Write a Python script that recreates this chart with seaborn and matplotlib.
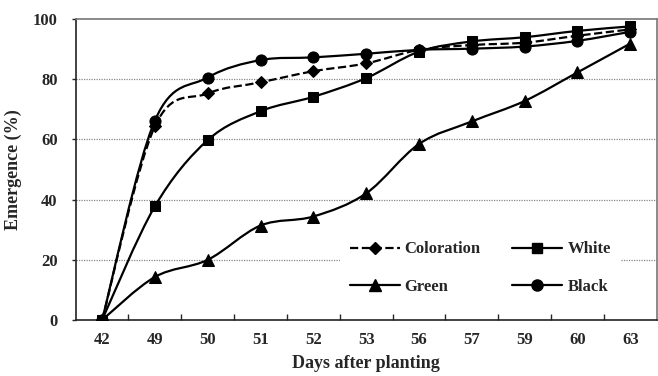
import numpy as np
import pandas as pd
import matplotlib.pyplot as plt
import seaborn as sns
from matplotlib.path import Path
from matplotlib.patches import PathPatch
from matplotlib.lines import Line2D

sns.set_style('white')
plt.rcParams['font.family'] = ['Liberation Serif', 'DejaVu Serif']
plt.rcParams['font.weight'] = 'bold'

days = ['42', '49', '50', '51', '52', '53', '56', '57', '59', '60', '63']
coloration = [0, 64.4, 75.3, 79.0, 82.7, 85.3, 89.8, 91.4, 92.2, 94.5, 96.6]
white = [0, 37.8, 59.8, 69.4, 74.2, 80.4, 89.2, 92.6, 94.0, 96.1, 97.6]
green = [0, 14.3, 20.0, 31.4, 34.4, 42.1, 58.5, 66.0, 72.8, 82.3, 91.9]
black = [0, 66.3, 80.6, 86.4, 87.3, 88.5, 89.8, 90.2, 90.9, 92.8, 95.8]

series = {'Coloration': coloration, 'White': white, 'Green': green, 'Black': black}
markers = {'Coloration': 'D', 'White': 's', 'Green': '^', 'Black': 'o'}
msizes = {'Coloration': 6, 'White': 7.5, 'Green': 8, 'Black': 8}
styles = {'Coloration': '--', 'White': '-', 'Green': '-', 'Black': '-'}

fig = plt.figure(figsize=(6.58, 3.76), dpi=100)
ax = fig.add_axes([0.115, 0.149, 0.883, 0.8])


def smooth_path(xs, ys):
    # excel-like smoothed line through the points (cubic bezier, catmull-rom)
    pts = np.column_stack([xs, ys]).astype(float)
    verts = [pts[0]]
    codes = [Path.MOVETO]
    n = len(pts)
    for i in range(n - 1):
        p0 = pts[max(i - 1, 0)]
        p1 = pts[i]
        p2 = pts[i + 1]
        p3 = pts[min(i + 2, n - 1)]
        c1 = p1 + (p2 - p0) / 6
        c2 = p2 - (p3 - p1) / 6
        verts += [c1, c2, p2]
        codes += [Path.CURVE4] * 3
    return Path(verts, codes)


for name, vals in series.items():
    df = pd.DataFrame({'day': days, 'value': vals})
    sns.lineplot(data=df, x='day', y='value', marker=markers[name], linestyle='',
                 color='black', markersize=msizes[name], markeredgecolor='black',
                 ax=ax, zorder=5, legend=False)
    ax.add_patch(PathPatch(smooth_path(np.arange(len(days)), vals), fill=False,
                           edgecolor='black', lw=1.6, ls=styles[name], zorder=4))

ax.set_xlim(-0.5, len(days) - 0.5)
ax.set_ylim(0, 100)
ax.set_yticks([0, 20, 40, 60, 80, 100])
ax.set_xticks(np.arange(len(days)))
ax.set_xticklabels(days)
ax.set_xticks(np.arange(len(days) - 1) + 0.5, minor=True)
ax.tick_params(axis='x', which='major', length=0, pad=9, labelsize=12)
ax.tick_params(axis='x', which='minor', direction='in', length=4, width=1, bottom=True)
ax.tick_params(axis='y', length=3, width=1, left=True, direction='out', pad=10, labelsize=12)
for y in [20, 40, 60, 80]:
    ax.axhline(y, color='#888888', lw=0.9, ls=(0, (1, 1)), zorder=1)

for s in ['left', 'bottom']:
    ax.spines[s].set_color('#222222')
    ax.spines[s].set_linewidth(1.2)
for s in ['top', 'right']:
    ax.spines[s].set_color('#777777')
    ax.spines[s].set_linewidth(1.2)

ax.set_xlabel('Days after planting', fontsize=13, fontweight='bold', labelpad=5)
ax.set_ylabel('Emergence (%)', fontsize=13, fontweight='bold', labelpad=8)

handles = [Line2D([], [], color='black', lw=1.6, ls=styles[n], marker=markers[n],
                  markersize=msizes[n]) for n in ['Coloration', 'Green', 'White', 'Black']]
labels = ['Coloration', 'Green', 'White', 'Black']
leg = ax.legend(handles, labels, ncol=2, loc='lower left', bbox_to_anchor=(0.44, 0.022),
                frameon=True, facecolor='white', edgecolor='none', fancybox=False,
                fontsize=12, handlelength=3.0, columnspacing=1.9, labelspacing=1.3,
                handletextpad=0.3, borderpad=0.6, framealpha=1)
leg.set_zorder(6)

plt.savefig('out.png', dpi=100)
